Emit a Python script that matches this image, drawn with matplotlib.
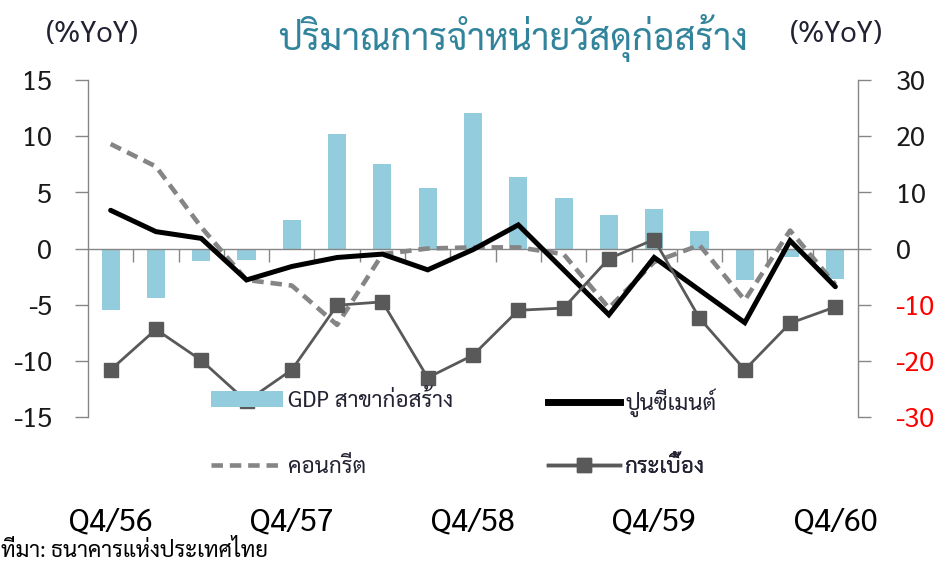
import matplotlib
matplotlib.use("Agg")
import matplotlib.pyplot as plt
from matplotlib import font_manager
from matplotlib.lines import Line2D
from matplotlib.patches import Patch
import matplotlib.transforms as mtransforms
import numpy as np

# ---------------- data ----------------
quarters = ["Q4/56", "Q1/57", "Q2/57", "Q3/57", "Q4/57", "Q1/58", "Q2/58", "Q3/58",
            "Q4/58", "Q1/59", "Q2/59", "Q3/59", "Q4/59", "Q1/60", "Q2/60", "Q3/60", "Q4/60"]
shown_labels = ["Q4/56", "Q4/57", "Q4/58", "Q4/59", "Q4/60"]
gdp_construction = [-5.5, -4.4, -1.1, -1.0, 2.5, 10.2, 7.5, 5.4, 12.1, 6.4, 4.5, 3.0,
                    3.5, 1.6, -2.8, -0.8, -2.7]
cement = [3.4, 1.5, 0.9, -2.8, -1.6, -0.8, -0.5, -1.9, -0.1, 2.1, -1.9, -5.9,
          -0.8, -3.7, -6.6, 0.7, -3.4]
concrete = [9.3, 7.3, 1.9, -2.8, -3.3, -6.8, -0.5, 0.0, 0.1, 0.1, -0.5, -5.3,
            -1.2, 0.3, -4.6, 1.6, -3.2]
tiles = [-21.6, -14.4, -19.9, -27.2, -21.6, -10.1, -9.5, -23.0, -19.0, -11.0, -10.6,
         -1.8, 1.6, -12.4, -21.6, -13.3, -10.4]   # right axis
left_ticks = [15, 10, 5, 0, -5, -10, -15]
right_ticks = [30, 20, 10, 0, -10, -20, -30]

title = "ปริมาณการจำหน่ายวัสดุก่อสร้าง"
unit = "(%YoY)"
leg_gdp = "GDP สาขาก่อสร้าง"
leg_cement = "ปูนซีเมนต์"
leg_concrete = "คอนกรีต"
leg_tiles = "กระเบื้อง"
source = "ที่มา: ธนาคารแห่งประเทศไทย"

# ---------------- fonts ----------------
names = {f.name for f in font_manager.fontManager.ttflist}
pref = ["Sarabun", "Noto Sans Thai Looped", "Noto Sans Thai", "Athiti", "Bai Jamjuree"]
thai = next((p for p in pref if p in names), "DejaVu Sans")
FAM = [thai, "DejaVu Sans"]
plt.rcParams["font.family"] = FAM

W, H = 939, 564
fig = plt.figure(figsize=(W / 100, H / 100), dpi=100)
renderer = fig.canvas.get_renderer()


def fit_fs(text, target_px, base=12.0):
    t = fig.text(0, 0, text, fontsize=base)
    w = t.get_window_extent(renderer).width
    t.remove()
    return base * target_px / w


def fx(px):
    return px / W


def fy(py):
    return (H - py) / H


# axes geometry (pixels in reference)
x0, x1 = 88, 858
ytop, ybot = 80, 417
ax = fig.add_axes([fx(x0), fy(ybot), fx(x1 - x0), (ybot - ytop) / H])
ax2 = ax.twinx()

n = len(quarters)
x = np.arange(n)

bar_c = "#93CDDD"
grey_axis = "#868686"
conc_c = "#858585"
conc_lw = 3.3
conc_ls = (0, (2.5, 1.5))

ax.bar(x, gdp_construction, width=0.4, color=bar_c, zorder=2)
ax.plot(x, cement, color="black", lw=3.6, solid_capstyle="round",
        solid_joinstyle="miter", zorder=4)
ax.plot(x, concrete, color=conc_c, lw=conc_lw, linestyle=conc_ls,
        dash_capstyle="butt", zorder=3)
ax2.plot(x, tiles, color="#595959", lw=2.0, marker="s", markersize=10,
         markerfacecolor="#595959", markeredgecolor="#595959", zorder=5)

ax.set_xlim(-0.5, n - 0.5)
ax.set_ylim(-15, 15)
ax2.set_ylim(-30, 30)

# spines
for s in ["top", "right"]:
    ax.spines[s].set_visible(False)
for s in ["top", "left", "bottom"]:
    ax2.spines[s].set_visible(False)
ax.spines["left"].set_color(grey_axis)
ax.spines["left"].set_linewidth(1.0)
ax2.spines["right"].set_color(grey_axis)
ax2.spines["right"].set_linewidth(1.0)
ax.spines["bottom"].set_position(("data", 0))
ax.spines["bottom"].set_color(grey_axis)
ax.spines["bottom"].set_linewidth(1.0)
ax.spines["bottom"].set_zorder(2.5)

# x ticks: category boundaries on the zero line, no labels
ax.set_xticks(np.arange(0.5, n - 1, 1.0))
ax.set_xticklabels([])
ax.tick_params(axis="x", direction="out", length=9.5, width=1.0, color=grey_axis)

num_fs = fit_fs("15", 30)
ax.set_yticks(left_ticks)
ax.set_yticklabels([str(v) for v in left_ticks])
ax.tick_params(axis="y", direction="out", length=9.5, width=1.0, color=grey_axis,
               pad=16.5, labelsize=num_fs, labelcolor="#1a1a1a")
ax2.set_yticks(right_ticks)
ax2.set_yticklabels([str(v) for v in right_ticks])
ax2.tick_params(axis="y", direction="out", length=9.0, width=1.0, color=grey_axis,
                pad=18, labelsize=num_fs)
for lab, v in zip(ax2.get_yticklabels(), right_ticks):
    lab.set_color("#FF0000" if v < 0 else "#1a1a1a")

# category labels below legend
q_fs = fit_fs("Q4/56", 84)
trans = mtransforms.blended_transform_factory(ax.transData, fig.transFigure)
for q in shown_labels:
    ax.text(quarters.index(q), fy(522), q, transform=trans, ha="center", va="center",
            fontsize=q_fs, color="black")

# titles
t_fs = fit_fs(title, 470)
fig.text(fx(513), fy(38), title, ha="center", va="center", fontsize=t_fs, color="#31849B")
u_fs = fit_fs(unit, 93)
fig.text(fx(92), fy(34), unit, ha="center", va="center", fontsize=u_fs, color="#222233")
fig.text(fx(836), fy(34), unit, ha="center", va="center", fontsize=u_fs, color="#222233")

s_fs = fit_fs(source, 268)
fig.text(fx(1), fy(551), source, ha="left", va="center", fontsize=s_fs, color="black")

# legends (four single-entry legends placed like the reference)
fs_pt = fit_fs(leg_gdp, 166)
handle_len_pt = 72 * 0.72
pad_pt = 5 * 0.72
entries = [
    (Patch(facecolor=bar_c, edgecolor="none"), leg_gdp, 211, 401),
    (Line2D([], [], color="black", lw=5), leg_cement, 548, 403),
    (Line2D([], [], color=conc_c, lw=conc_lw, linestyle=conc_ls,
            dash_capstyle="butt"), leg_concrete, 211, 467),
    (Line2D([], [], color="#595959", lw=2.5, marker="s", markersize=10), leg_tiles, 548, 467),
]
for h, lab, lx, ly in entries:
    leg = ax2.legend([h], [lab], loc="center left", bbox_to_anchor=(fx(lx), fy(ly)),
                     bbox_transform=fig.transFigure, frameon=False, fontsize=fs_pt,
                     handlelength=handle_len_pt / fs_pt, handleheight=11.5 / fs_pt,
                     handletextpad=pad_pt / fs_pt, borderpad=0, borderaxespad=0,
                     labelcolor="#222233")
    leg.set_zorder(10)
    ax2.add_artist(leg)

fig.savefig("out.png", dpi=100)
